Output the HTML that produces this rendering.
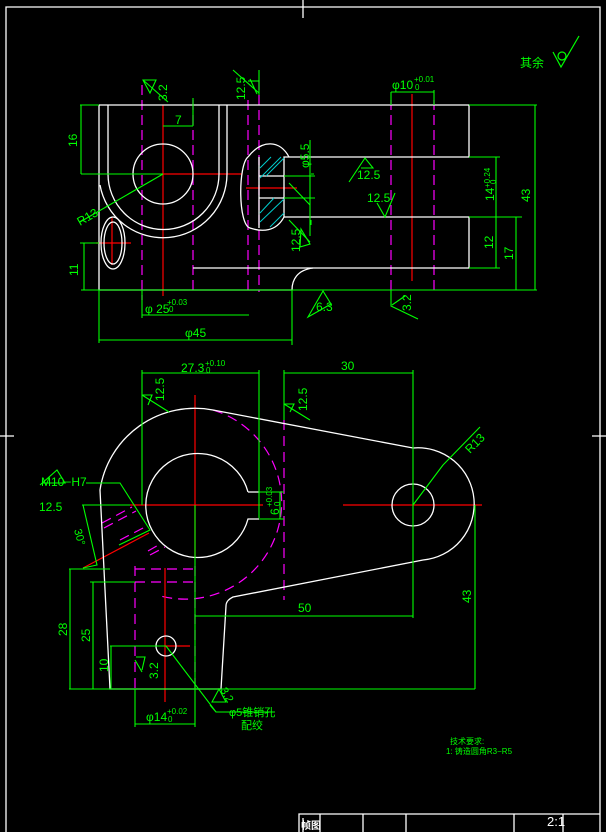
<!DOCTYPE html>
<html><head><meta charset="utf-8"><style>
html,body{margin:0;padding:0;background:#000;}
svg{display:block;}
text{font-family:"Liberation Sans","Noto Sans CJK SC",sans-serif;fill:#00ff00;}
</style></head><body>
<svg width="606" height="832" viewBox="0 0 606 832" xmlns="http://www.w3.org/2000/svg">
<rect width="606" height="832" fill="#000"/>
<!-- frame -->
<g stroke="#fff" fill="none" stroke-width="1.3">
<path d="M6,832 V7 H600 V832"/>
<path d="M303,0 V18 M303,818 V832 M0,436 H14 M592,436 H606"/>
<path d="M299,832 V814 H600 M320,814 V832 M363,814 V832 M406,814 V832 M514,814 V832 M563,814 V832"/>
</g>
<text x="301" y="829" style="fill:#fff;font-size:10px;font-weight:bold">帧图</text>
<text x="547" y="826" style="fill:#fff;font-size:13px">2:1</text>

<!-- 其余 symbol -->
<text x="520" y="67" style="font-size:12px">其余</text>
<g stroke="#00ff00" fill="none" stroke-width="1.2"><circle cx="562" cy="56" r="4"/><path d="M553,52 L561,67 L579,36"/></g>

<!-- ================= TOP VIEW ================= -->
<!-- magenta dashed -->
<g stroke="#ff00ff" stroke-width="1.2" stroke-dasharray="10,5" fill="none">
<path d="M142,85 V300 M193,100 V292 M248,100 V292 M259,80 V292 M391,100 V290 M434,100 V290"/>
</g>
<!-- red center lines -->
<g stroke="#ff0000" stroke-width="1.2" fill="none">
<path d="M163,105 V296 M162,174 H242 M246,188 H297 M112,218 V265 M96,243 H131 M412,94 V281"/>
</g>
<!-- white outlines -->
<g stroke="#fff" stroke-width="1.3" fill="none">
<path d="M99,105 H469 V157 H284 V217 H469 V268 H193"/>
<path d="M99,105 V290 H292 C292,280 297,270 313,268"/>
<path d="M108,105 V174 A55,55 0 0 0 219,174 V105"/>
<path d="M227,105 V174 A64,64 0 0 1 100,185"/>
<circle cx="163" cy="174" r="30"/>
<ellipse cx="113" cy="243" rx="12" ry="26"/>
<ellipse cx="113" cy="243" rx="9" ry="21"/>
<path d="M248,157 C238,165 238,225 250,228 C262,232 276,232 284,217 M248,157 C262,139 280,140 289,157"/>
<path d="M259,157 V228 M259,176 H284 M259,198 H284"/>
</g>
<!-- hatch -->
<g stroke="#00cccc" stroke-width="1" fill="none">
<path d="M260,168 L271,157 M260,178 L281,157 M266,176 L284,158 M260,213 L274,198 M260,222 L284,199 M270,227 L284,213"/>
</g>
<!-- green dims -->
<g stroke="#00ff00" stroke-width="1.1" fill="none">
<path d="M81,290 H537 M80,105 H99 M81,174 H163 M80,243 H99 M469,105 H537 M469,157 H500 M469,217 H522 M469,268 H500"/>
<path d="M81,105 V174 M84,243 V290 M535,105 V290 M516,217 V290 M496,157 V268"/>
<path d="M142,290 V318 M142,315 H249 M99,290 V343 M292,290 V345 M99,340 H292"/>
<path d="M391,92 V105 M434,90 V105 M391,92 H434 M163,126 H193 M193,98 V126"/>
<path d="M311,174 H314 M311,225 V220 M310,140 V236 M284,176 H315 M284,198 H315"/>
<!-- roughness marks -->
<path d="M143,80 L168,102 M143,80 H156 L150,93 Z" />
<path d="M233,70 L259,93 M259,70 V95 M250,79 L257,94"/>
<path d="M248,81 H259"/>
<path d="M289,183 L310,205"/>
<path d="M301,229 L310,244 L300,247 Z" />
<path d="M289,220 L310,242"/>
<path d="M349,182 L365,158 L373,168 H361"/>
<path d="M395,193 L385,217 L377,203"/>
<path d="M308,317 L323,291 L331,304 Z"/>
<path d="M391,290 V306 L418,319 M392,305 L405,296"/>
<path d="M80,222 L163,174"/>
</g>
<g style="font-size:12px">
<text x="0" y="0" transform="translate(167,101) rotate(-90)">3.2</text>
<text x="0" y="0" transform="translate(245,100) rotate(-90)">12.5</text>
<text x="175" y="124">7</text>
<text x="0" y="0" transform="translate(77,147) rotate(-90)">16</text>
<text x="0" y="0" transform="translate(78,276) rotate(-90)">11</text>
<text x="0" y="0" transform="translate(80,226) rotate(-30)">R13</text>
<text x="0" y="0" transform="translate(309,168) rotate(-90)">φ5.5</text>
<text x="357" y="179">12.5</text>
<text x="367" y="202">12.5</text>
<text x="0" y="0" transform="translate(300,252) rotate(-90)">12.5</text>
<text x="392" y="89">φ10</text>
<text x="414" y="82" style="font-size:8px">+0.01</text>
<text x="415" y="90" style="font-size:8px">0</text>
<text x="0" y="0" transform="translate(494,201) rotate(-90)">14</text>
<text x="0" y="0" transform="translate(490,188) rotate(-90)" style="font-size:8px">+0.24</text>
<text x="0" y="0" transform="translate(496,184) rotate(-90)" style="font-size:8px">0</text>
<text x="0" y="0" transform="translate(530,202) rotate(-90)">43</text>
<text x="0" y="0" transform="translate(493,249) rotate(-90)">12</text>
<text x="0" y="0" transform="translate(513,260) rotate(-90)">17</text>
<text x="316" y="311">6.3</text>
<text x="0" y="0" transform="translate(411,311) rotate(-90)">3.2</text>
<text x="145" y="313">φ 25</text>
<text x="167" y="305" style="font-size:8px">+0.03</text>
<text x="169" y="312" style="font-size:8px">0</text>
<text x="185" y="337">φ45</text>
</g>

<!-- ================= BOTTOM VIEW ================= -->
<!-- magenta -->
<g stroke="#ff00ff" stroke-width="1.2" stroke-dasharray="10,6" fill="none">
<path d="M213,410 A96,96 0 0 1 157,595"/>
<path d="M284,420 V600 M135,566 V689 M195,566 V689 M135,569 H195 M135,582 H195"/>
<path d="M102,523 L132,507 M104,528 L136,511 M120,540 L145,527 M150,555 L165,547 M148,551 L162,543"/>
</g>
<!-- red -->
<g stroke="#ff0000" stroke-width="1.2" fill="none">
<path d="M130,505 H263 M343,505 H482 M195,395 V557 M165,568 V702 M165,646 H190 M83,568 L149,533"/>
</g>
<!-- white -->
<g stroke="#fff" stroke-width="1.3" fill="none">
<path d="M248,492 A52,52 0 1 0 248,519 L259,519 M248,492 H259"/>
<path d="M213,410 L413,448 A56,56 0 0 1 423,560 L233,597 C227,600 226,603 226,606 L221,689 H110 L100,490 A96,96 0 0 1 213,410"/>
<circle cx="413" cy="505" r="21"/>
<circle cx="166" cy="646" r="10"/>
</g>
<!-- green -->
<g stroke="#00ff00" stroke-width="1.1" fill="none">
<path d="M142,370 V505 M259,370 V518 M284,370 V420 M413,370 V618 M142,373 H259 M284,373 H413"/>
<path d="M195,505 V689 M195,616 H413 M69,689 H475 M475,505 V689 M69,569 H110 M70,569 V689 M90,582 H135 M93,582 V689 M110,646 H166 M111,646 V689"/>
<path d="M135,689 V727 M195,689 V727 M135,724 H195 M259,492 H284 M259,519 H284 M280,492 V519"/>
<path d="M166,646 L216,712 H275 M216,712 L210,705"/>
<path d="M82,505 H130 M83,505 L97,565 L83,568 M86,483 H86 L120,483 L150,530 L119,545"/>
<path d="M40,485 L57,470 L65,483 H42"/>
<path d="M142,395 L169,412 M142,395 H152 L148,405"/>
<path d="M284,404 L310,420 M284,404 H294 L290,412"/>
<path d="M443,465 L480,427 M413,505 L443,465"/>
<path d="M135,660 L142,672 M136,657 H145 L142,670"/>
<path d="M212,702 L219,689 L226,702 Z"/>
</g>
<g style="font-size:12px">
<text x="181" y="372">27.3</text>
<text x="205" y="366" style="font-size:8px">+0.10</text>
<text x="206" y="373" style="font-size:8px">0</text>
<text x="341" y="370">30</text>
<text x="0" y="0" transform="translate(164,401) rotate(-90)">12.5</text>
<text x="0" y="0" transform="translate(307,411) rotate(-90)">12.5</text>
<text x="0" y="0" transform="translate(470,454) rotate(-45)">R13</text>
<text x="41" y="486">M10−H7</text>
<text x="39" y="511">12.5</text>
<text x="0" y="0" transform="translate(74,530) rotate(75)" style="font-size:11px">30°</text>
<text x="0" y="0" transform="translate(279,515) rotate(-90)">6</text>
<text x="0" y="0" transform="translate(272,507) rotate(-90)" style="font-size:8px">+0.03</text>
<text x="0" y="0" transform="translate(280,506) rotate(-90)" style="font-size:8px">0</text>
<text x="298" y="612">50</text>
<text x="0" y="0" transform="translate(471,603) rotate(-90)">43</text>
<text x="0" y="0" transform="translate(67,636) rotate(-90)">28</text>
<text x="0" y="0" transform="translate(90,642) rotate(-90)">25</text>
<text x="0" y="0" transform="translate(108,672) rotate(-90)">10</text>
<text x="0" y="0" transform="translate(158,679) rotate(-90)">3.2</text>
<text x="0" y="0" transform="translate(220,690) rotate(60)" style="font-size:11px">3.2</text>
<text x="146" y="721">φ14</text>
<text x="167" y="714" style="font-size:8px">+0.02</text>
<text x="168" y="722" style="font-size:8px">0</text>
<text x="229" y="716" style="font-size:11px">φ5锥销孔</text>
<text x="241" y="729" style="font-size:11px">配绞</text>
</g>
<text x="450" y="744" style="font-size:8px">技术要求:</text>
<text x="446" y="754" style="font-size:8px">1: 铸造圆角R3−R5</text>
</svg>
</body></html>
